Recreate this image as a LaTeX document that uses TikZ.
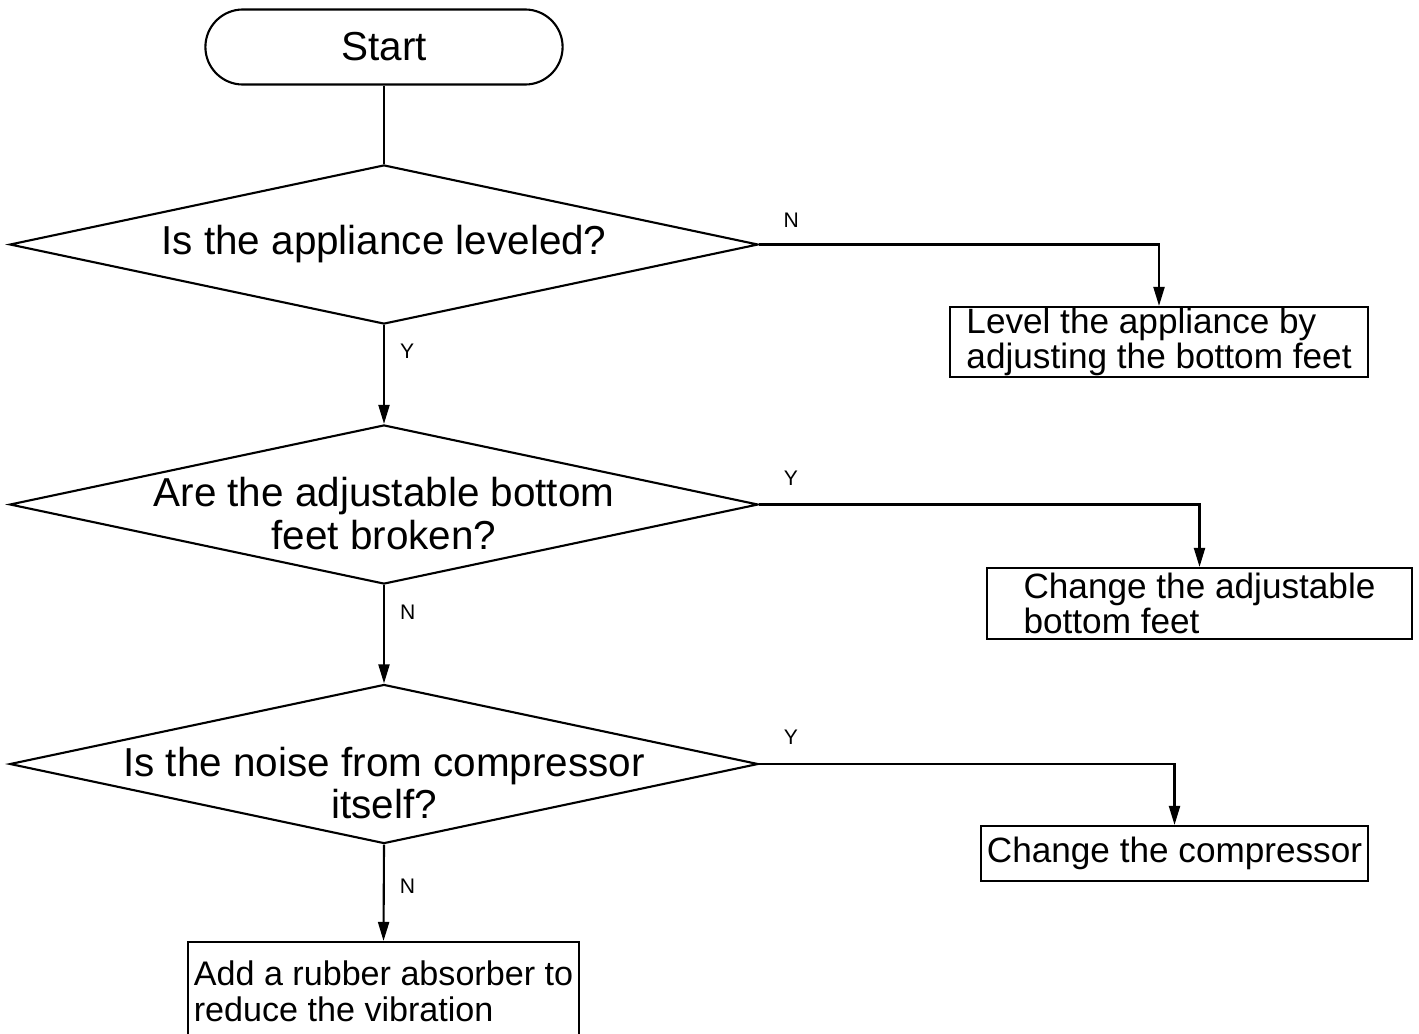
\documentclass[tikz,border=0pt]{standalone}
\usepackage{fontspec}
\setmainfont{Liberation Sans}
\usepackage{tikz}
\usetikzlibrary{arrows.meta, shapes.geometric}

\begin{document}
\begin{tikzpicture}[x=0.01cm, y=-0.01cm, line width=0.6pt,
    terminal/.style={draw, rounded corners=0.375cm, minimum width=3.57cm, minimum height=0.75cm,
      font=\fontsize{11.5}{12.3}\selectfont},
    decision/.style={draw, diamond, inner sep=0pt, minimum width=7.48cm, minimum height=1.59cm},
    question/.style={align=center, inner sep=0pt, font=\fontsize{11.5}{12}\selectfont},
    action/.style={draw, inner sep=0pt, align=left, font=\fontsize{10}{10}\selectfont},
    flag/.style={inner sep=0pt, font=\fontsize{6}{7}\selectfont},
    arr/.style={-{Triangle[length=1.9mm, width=1.1mm]}}]
  \useasboundingbox (0,0) rectangle (1419,1033);
  \clip (0,0) rectangle (1419,1033);

  % ---- Start ----
  \node[terminal] (start) at (384,47) {Start};

  % ---- Questions ----
  \node[decision] (q1) at (384,244.5) {};
  \node[question] (q1t) at (q1) {Is the appliance leveled?};
  \node[decision] (q2) at (384,504.5) {};
  \node[question, yshift=-0.09cm] (q2t) at (q2) {Are the adjustable bottom\\feet broken?};
  \node[decision] (q3) at (384,764) {};
  \node[question, yshift=-0.19cm] (q3t) at (q3) {Is the noise from compressor\\itself?};

  % ---- Actions ----
  \node[action, minimum width=4.18cm, minimum height=0.70cm] (fix1) at (1159,342)
    {Level the appliance by\\adjusting the bottom feet};
  \node[action, minimum width=4.25cm, minimum height=0.71cm] (fix2) at (1199.5,603.5)
    {Change the adjustable\\bottom feet};
  \node[action, minimum width=3.87cm, minimum height=0.55cm] (fix3) at (1174.5,853.5)
    {Change the compressor};
  \node[action, minimum width=3.91cm, minimum height=0.98cm,
    font=\fontsize{9.7}{10.2}\selectfont] (fix4) at (383.5,991)
    {Add a rubber absorber to\\reduce the vibration};

  % ---- Connectors ----
  \draw (start.south) -- (q1.north);
  \draw[arr] (q1.east) -| node[flag, pos=0.04, above=1.6mm] {N} (fix1.north);
  \draw[arr] (q1.south) -- node[flag, pos=0.26, right=1.5mm] {Y} (q2.north);
  \draw[arr] (q2.east) -| node[flag, pos=0.036, above=1.8mm] {Y} (fix2.north);
  \draw[arr] (q2.south) -- node[flag, pos=0.28, right=1.5mm] {N} (q3.north);
  \draw[arr] (q3.east) -| node[flag, pos=0.038, above=1.8mm] {Y} (fix3.north);
  \draw[arr] (q3.south) -- node[flag, pos=0.43, right=1.5mm] {N} (fix4.north);
\end{tikzpicture}
\end{document}
